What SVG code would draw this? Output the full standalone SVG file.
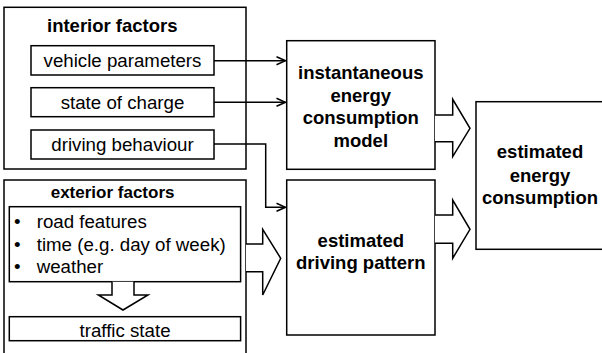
<svg xmlns="http://www.w3.org/2000/svg" width="602" height="353" viewBox="0 0 602 353">
<defs>
<style>
.box{fill:#fff;stroke:#000;stroke-width:1.5}
.blk{fill:#fff;stroke:#000;stroke-width:1.5;stroke-linejoin:miter}
.ln{fill:none;stroke:#000;stroke-width:1.5}
.t{font-family:"Liberation Sans",Arial,sans-serif;font-size:18.7px;fill:#000}
.b{font-family:"Liberation Sans",Arial,sans-serif;font-size:18.5px;font-weight:bold;fill:#000}
.m{text-anchor:middle}
</style>
<marker id="ah" markerUnits="userSpaceOnUse" markerWidth="12" markerHeight="12" viewBox="0 0 12 12" refX="11" refY="6" orient="auto">
<path d="M2,2 L11,6 L2,10" fill="none" stroke="#000" stroke-width="1.5"/>
</marker>
</defs>
<rect width="602" height="353" fill="#fff"/>
<g id="interior">
<rect class="box" x="4" y="7.3" width="242" height="161.7"/>
<text class="b" x="47" y="32">interior factors</text>
</g>
<g id="vehicle">
<rect class="box" x="31" y="45.7" width="183" height="29.3"/>
<text class="t m" x="122.5" y="66.8">vehicle parameters</text>
</g>
<g id="soc">
<rect class="box" x="31" y="87.7" width="183" height="29"/>
<text class="t m" x="122.5" y="108.8">state of charge</text>
</g>
<g id="driving">
<rect class="box" x="31" y="130" width="183" height="29"/>
<text class="t m" x="122.5" y="151">driving behaviour</text>
</g>
<g id="exterior">
<rect class="box" x="4" y="180" width="242" height="180"/>
<text class="b" style="font-size:17px" x="50.7" y="198">exterior factors</text>
</g>
<g id="bullets">
<rect class="box" x="9.3" y="206.7" width="231.3" height="75"/>
<text class="t" x="14" y="228.3">•</text>
<text class="t" x="36.7" y="228.3">road features</text>
<text class="t" x="14" y="251">•</text>
<text class="t" x="36.7" y="251">time (e.g. day of week)</text>
<text class="t" x="14" y="273.3">•</text>
<text class="t" x="36.7" y="273.3">weather</text>
</g>
<g id="traffic">
<rect class="box" x="9.3" y="316.7" width="231.3" height="24"/>
<text class="t m" x="125" y="336.5">traffic state</text>
</g>
<g id="instantaneous">
<rect class="box" x="286.7" y="40.7" width="148.3" height="128.6"/>
<text class="b m" x="360.8" y="79.3">instantaneous</text>
<text class="b m" x="360.8" y="101.7">energy</text>
<text class="b m" x="360.8" y="124">consumption</text>
<text class="b m" x="360.8" y="146.5">model</text>
</g>
<g id="pattern">
<rect class="box" x="286.7" y="180" width="148.3" height="155"/>
<text class="b m" x="360.8" y="246.7">estimated</text>
<text class="b m" x="360.8" y="269.3">driving pattern</text>
</g>
<g id="estimated">
<rect class="box" x="476" y="101.7" width="130" height="147.6"/>
<text class="b m" x="540" y="158.3">estimated</text>
<text class="b m" x="540" y="181.5">energy</text>
<text class="b m" x="540" y="204">consumption</text>
</g>
<g id="connectors">
<path class="ln" d="M214,60.7 H285.5" marker-end="url(#ah)"/>
<path class="ln" d="M214,102.3 H285.5" marker-end="url(#ah)"/>
<path class="ln" d="M214,144 H265.7 V207.3 H285.5" marker-end="url(#ah)"/>
<path class="blk" d="M435,115 H452.7 V99.3 L470,128.3 L452.7,156.7 V141.7 H435"/>
<path class="blk" d="M435,215 H452.7 V200 L470,229.3 L452.7,258.3 V243.3 H435"/>
<path class="blk" d="M246,244 H262.7 V229.3 L280.7,258.3 L262.7,295 V271.7 H246"/>
<path class="blk" d="M112,281.7 V295 H98.3 L123,310 L148,295 H134 V281.7"/>
</g>
</svg>
